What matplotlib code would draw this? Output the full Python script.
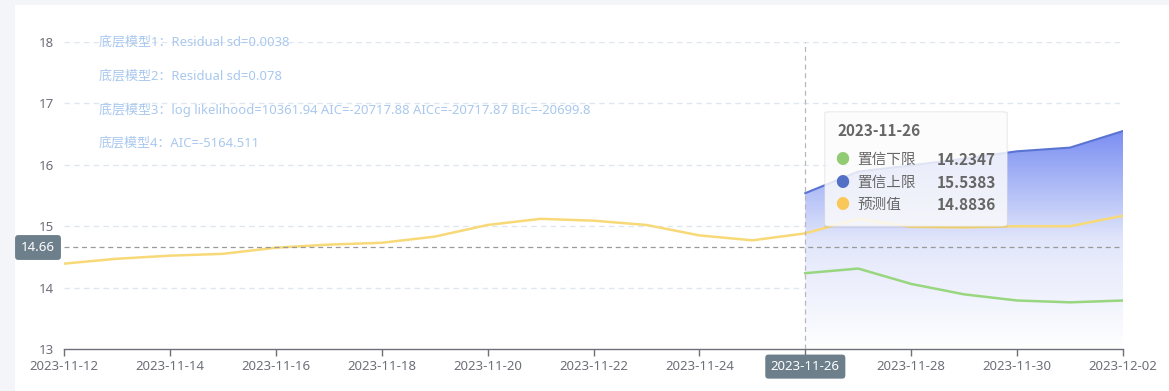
import matplotlib
matplotlib.use("Agg")
import matplotlib.pyplot as plt
import numpy as np
from matplotlib.patches import FancyBboxPatch, Rectangle, Polygon
from matplotlib.colors import LinearSegmentedColormap

plt.rcParams['font.family'] = ['Noto Sans', 'Noto Sans CJK SC', 'DejaVu Sans']

# ---------------- data ----------------
dates = ["2023-11-12", "2023-11-13", "2023-11-14", "2023-11-15", "2023-11-16", "2023-11-17",
         "2023-11-18", "2023-11-19", "2023-11-20", "2023-11-21", "2023-11-22", "2023-11-23",
         "2023-11-24", "2023-11-25", "2023-11-26", "2023-11-27", "2023-11-28", "2023-11-29",
         "2023-11-30", "2023-12-01", "2023-12-02"]
pred = [14.39, 14.47, 14.52, 14.55, 14.65, 14.70, 14.73, 14.83, 15.02, 15.12, 15.09, 15.02,
        14.85, 14.77, 14.8836, 15.12, 14.99, 14.98, 15.00, 15.00, 15.17]
fc_dates = dates[14:]
upper = [15.5383, 15.89, 15.99, 16.10, 16.22, 16.28, 16.55]
lower = [14.2347, 14.31, 14.06, 13.89, 13.79, 13.76, 13.79]
yticks = [13, 14, 15, 16, 17, 18]
notes = ["底层模型1：Residual sd=0.0038",
         "底层模型2：Residual sd=0.078",
         "底层模型3：log likelihood=10361.94 AIC=-20717.88 AICc=-20717.87 BIc=-20699.8",
         "底层模型4：AIC=-5164.511"]
pointer_value = 14.66
pointer_date = "2023-11-26"
tooltip_title = "2023-11-26"
tooltip_items = [("置信下限", "14.2347", "#91cc75"),
                 ("置信上限", "15.5383", "#5470c6"),
                 ("预测值", "14.8836", "#fac858")]

# ---------------- figure ----------------
W, H = 1169, 391
fig = plt.figure(figsize=(W / 100, H / 100), dpi=100)
fig.patch.set_facecolor("#f4f5f9")
fig.patches.append(Rectangle((15 / W, 0), 1 - 15 / W, 1 - 5 / H, transform=fig.transFigure,
                             facecolor="white", edgecolor="none", zorder=-5))

ax = fig.add_axes([64 / W, 1 - 349 / H, (1123 - 64) / W, (349 - 42) / H])
ax.set_facecolor("none")
ax.set_zorder(1)

x = np.arange(len(dates))
xf = np.array([dates.index(d) for d in fc_dates])
up = np.array(upper)
lo = np.array(lower)

# grid
for yv in yticks[1:]:
    ax.axhline(yv, color="#e0e6f1", lw=1, ls=(0, (4, 3)), zorder=1)

# gradient area under upper bound
ymin = 13
grad = np.linspace(1, 0, 256).reshape(-1, 1)
cmap = LinearSegmentedColormap.from_list("g", ["#ffffff", "#e0e5fb", "#7489f2"])
im = ax.imshow(grad, extent=[xf[0], xf[-1], ymin, up.max()], aspect="auto",
               cmap=cmap, vmin=0, vmax=1, origin="upper", zorder=2, alpha=0.95)
poly = Polygon(np.vstack([np.column_stack([xf, up]), [[xf[-1], ymin], [xf[0], ymin]]]),
               closed=True, facecolor="none", edgecolor="none", transform=ax.transData)
ax.add_patch(poly)
im.set_clip_path(poly)
ax.set_xlim(0, len(dates) - 1)
ax.set_ylim(13, 18)

ax.plot(xf, up, color="#5a74d4", lw=1.5, zorder=4, solid_joinstyle="round")
ax.plot(xf, lo, color="#98d67f", lw=1.8, zorder=4, solid_joinstyle="round")
ax.plot(x, pred, color="#f8d978", lw=1.8, zorder=4, solid_joinstyle="round")

# axis pointer lines
ax.axhline(pointer_value, color="#9a9a9a", lw=0.9, ls=(0, (4, 3)), zorder=5)
px = dates.index(pointer_date)
ax.axvline(px, color="#b8b8b8", lw=0.9, ls=(0, (4, 3)), zorder=5)

# spines and ticks
for s in ["top", "right", "left"]:
    ax.spines[s].set_visible(False)
ax.spines["bottom"].set_color("#6e7079")
ax.spines["bottom"].set_linewidth(1)
ax.set_yticks(yticks)
ax.set_yticklabels([str(v) for v in yticks])
ax.tick_params(axis="y", length=0, pad=7, labelsize=9.5, labelcolor="#6e7079")
ax.set_xticks(x[::2])
ax.set_xticklabels(dates[::2])
ax.tick_params(axis="x", length=5, width=1, color="#6e7079", pad=3, labelsize=9.5,
               labelcolor="#6e7079")
for t in ax.get_xticklabels():
    if t.get_text() == pointer_date:
        t.set_color("white")
        t.set_bbox(dict(boxstyle="round,pad=0.42,rounding_size=0.25", facecolor="#6e7f8c",
                        edgecolor="none"))
        t.set_zorder(20)

# annotations (model notes)
for i, n in enumerate(notes):
    fig.text(99 / W, 1 - (42 + i * 33.7) / H, n, fontsize=9.4, color="#a9c8ee",
             ha="left", va="center", zorder=10)

# axis pointer label on y
fig.text(38 / W, 1 - 247.5 / H, f"{pointer_value:.2f}",
         color="white", fontsize=9.5, ha="center", va="center", zorder=20,
         bbox=dict(boxstyle="round,pad=0.45,rounding_size=0.25", facecolor="#6e7f8c",
                   edgecolor="none"))

# tooltip
bold_fam = ['Noto Sans CJK SC', 'DejaVu Sans']
tx0, ty0, tx1, ty1 = 825, 112, 1007, 226
shadow = FancyBboxPatch(((tx0 - 1) / W, 1 - (ty1 + 2) / H), (tx1 - tx0 + 2) / W, (ty1 - ty0 + 3) / H,
                        boxstyle="round,pad=0,rounding_size=0.005", transform=fig.transFigure,
                        facecolor="#000000", alpha=0.06, edgecolor="none", zorder=29)
fig.patches.append(shadow)
tip = FancyBboxPatch((tx0 / W, 1 - ty1 / H), (tx1 - tx0) / W, (ty1 - ty0) / H,
                     boxstyle="round,pad=0,rounding_size=0.005", transform=fig.transFigure,
                     facecolor="white", alpha=0.82, edgecolor="#eeeeee", lw=0.8, zorder=30)
fig.patches.append(tip)
fig.text(837 / W, 1 - 131 / H, tooltip_title, fontsize=11, fontweight="bold", color="#666666",
         ha="left", va="center", zorder=31, family=bold_fam)
for i, (lab, val, col) in enumerate(tooltip_items):
    yy = 160 + i * 22.5
    fig.text(842 / W, 1 - yy / H, "●", fontsize=10, color=col, ha="center", va="center",
             zorder=31, family=bold_fam)
    fig.text(857 / W, 1 - yy / H, lab, fontsize=10.5, color="#666666", ha="left", va="center",
             zorder=31, family=bold_fam)
    fig.text(996 / W, 1 - yy / H, val, fontsize=11, fontweight="bold", color="#666666",
             ha="right", va="center", zorder=31, family=bold_fam)

fig.savefig("out.png", dpi=100, facecolor=fig.get_facecolor())
